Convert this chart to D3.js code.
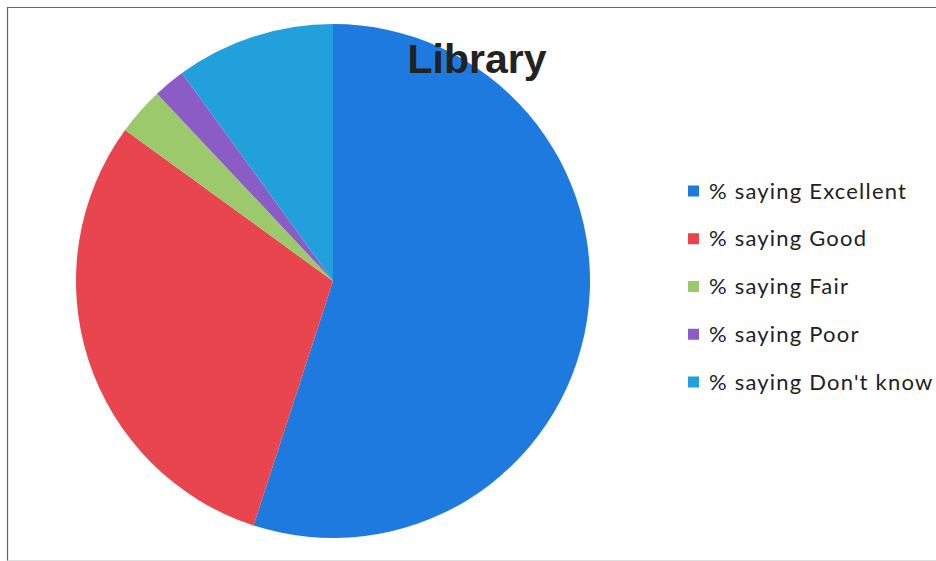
<!DOCTYPE html>
<html><head><meta charset="utf-8">
<script src="https://cdn.jsdelivr.net/npm/d3@7"></script>
<style>body{margin:0;background:#fff}svg{display:block}</style>
</head><body><svg id="c" width="936" height="561"></svg>
<script>
const categories = ["% saying Excellent","% saying Good","% saying Fair","% saying Poor","% saying Don't know"];
const values = [55, 30, 3, 2, 10];
const colors = ["#1f7ae0","#e8454f","#9cc96b","#8c5cc6","#21a0dc"];
const title = "Library";

const svg = d3.select("#c");
// frame
svg.append("path").attr("d","M7.5,561 V7.5 H936").attr("fill","none").attr("stroke","#666").attr("stroke-width",1.2);
svg.append("path").attr("d","M7.5,560.5 H936").attr("fill","none").attr("stroke","#ddd").attr("stroke-width",1);

const cx = 333, cy = 281, r = 257;
const pie = d3.pie().sort(null).value(d=>d);
const arc = d3.arc().innerRadius(0).outerRadius(r);
const g = svg.append("g").attr("transform",`translate(${cx},${cy})`);
g.selectAll("path").data(pie(values)).join("path")
  .attr("d",arc).attr("fill",(d,i)=>colors[i]);

svg.append("text").attr("x",477).attr("y",73).attr("text-anchor","middle")
  .attr("font-family","Liberation Sans, Arial, sans-serif").attr("font-weight","bold")
  .attr("font-size",41).attr("fill","#222").text(title);

const lg = svg.append("g");
const ly = d3.scalePoint().domain(categories).range([191,382]);
categories.forEach((c,i)=>{
  lg.append("rect").attr("x",688).attr("y",ly(c)-5.5).attr("width",11).attr("height",11).attr("fill",colors[i]);
  lg.append("text").attr("x",709).attr("y",ly(c)+7.5).attr("font-family","Lato, sans-serif")
    .attr("font-size",22).attr("letter-spacing",1.2).attr("fill","#222").text(c);
});
</script></body></html>
